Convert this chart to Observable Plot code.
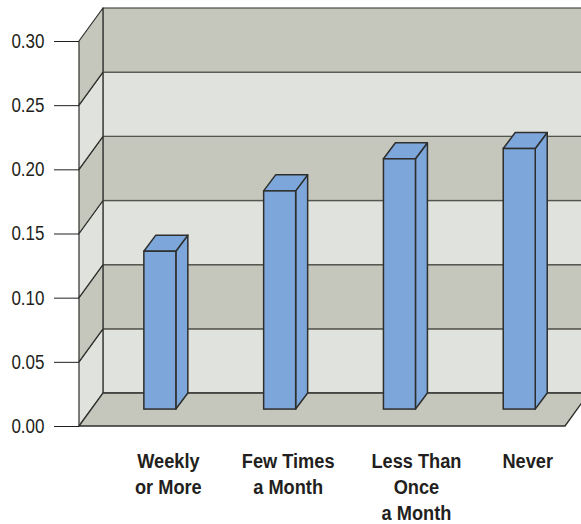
<!DOCTYPE html>
<html>
<head>
<meta charset="utf-8">
<script src="https://cdn.jsdelivr.net/npm/d3@7"></script>
<script src="https://cdn.jsdelivr.net/npm/@observablehq/plot@0.6"></script>
<style>
  html, body { margin: 0; padding: 0; background: #fff; overflow: hidden; }
  svg { display: block; }
</style>
</head>
<body>
<div id="chart"></div>
<script>
// Attendance categories and the share of respondents in each
const categories = ["Weekly\nor More", "Few Times\na Month", "Less Than\nOnce\na Month", "Never"];
const shares = [0.123, 0.170, 0.195, 0.203];
const bandEdges = [0, 0.05, 0.10, 0.15, 0.20, 0.25, 0.30];
const yTicks = [0, 0.05, 0.10, 0.15, 0.20, 0.25, 0.30];

const DARK = "#c5c7bc", LIGHT = "#e0e2dd", BLUE = "#7da7db", INK = "#231f20", EDGE = "#2e2e2c";

// Extent of the floor along the category axis, and the oblique depth offsets in data units
const xMin = -0.675, xMax = 3.382;
const wallDX = 0.2, wallDY = 0.0257;
const barHalf = 0.1336, barDX = 0.1, barDY = 0.0125, barBase = 0.0132;

// Wall bands, bottom to top, alternating light and dark
const bands = d3.pairs(bandEdges).map(([y1, y2], i) => ({y1, y2, fill: i % 2 ? DARK : LIGHT, id: i}));

// Side wall: each band is a parallelogram running from the axis to the back wall
const sideWall = bands.flatMap(b => [
  {id: b.id, fill: b.fill, x: xMin, y1: b.y1, y2: b.y2},
  {id: b.id, fill: b.fill, x: xMin + wallDX, y1: b.y1 + wallDY, y2: b.y2 + wallDY}
]);

const floor = [
  {y: 0, x1: xMin, x2: xMax},
  {y: wallDY, x1: xMin + wallDX, x2: xMax + wallDX}
];

const bars = shares.map((v, i) => ({i, left: i - barHalf, right: i + barHalf, base: barBase, top: barBase + v}));

const barSides = bars.flatMap(b => [
  {i: b.i, x: b.right, y1: b.base, y2: b.top},
  {i: b.i, x: b.right + barDX, y1: b.base + barDY, y2: b.top + barDY}
]);

const barTops = bars.flatMap(b => [
  {i: b.i, y: b.top, x1: b.left, x2: b.right},
  {i: b.i, y: b.top + barDY, x1: b.left + barDX, x2: b.right + barDX}
]);

// Category labels; the three-line label sits further right than the others
const categoryAxis = (ticks, dx) => Plot.axisX({
  ticks,
  tickFormat: i => categories[i],
  tickSize: 0, tickPadding: 23, dx, lineHeight: 1.3,
  fontSize: 20, fontWeight: 700, fill: INK, lineAnchor: "top", y: 0
});

const chart = Plot.plot({
  width: 581,
  height: 524,
  marginTop: 41,
  marginBottom: 98,
  marginLeft: 79,
  marginRight: 16,
  style: {fontFamily: "'Liberation Sans', Arial, sans-serif", background: "#fff", color: INK},
  x: {domain: [xMin, xMax], axis: null},
  y: {domain: [0, 0.30], axis: null},
  marks: [
    // Back wall
    Plot.rect(bands, {
      x1: xMin + wallDX, x2: xMax + wallDX,
      y1: d => d.y1 + wallDY, y2: d => d.y2 + wallDY,
      fill: "fill", stroke: "#55554f", strokeWidth: 1.3
    }),
    // Side wall
    Plot.areaY(sideWall, {x: "x", y1: "y1", y2: "y2", z: "id", fill: "fill", stroke: EDGE, strokeWidth: 1.2}),
    // Floor
    Plot.areaX(floor, {y: "y", x1: "x1", x2: "x2", fill: DARK, stroke: EDGE, strokeWidth: 1.3}),
    // Bars: right face, top face, then front face
    Plot.areaY(barSides, {x: "x", y1: "y1", y2: "y2", z: "i", fill: BLUE, stroke: EDGE, strokeWidth: 1.5}),
    Plot.areaX(barTops, {y: "y", x1: "x1", x2: "x2", z: "i", fill: BLUE, stroke: EDGE, strokeWidth: 1.5}),
    Plot.rect(bars, {x1: "left", x2: "right", y1: "base", y2: "top", fill: BLUE, stroke: EDGE, strokeWidth: 1.5}),
    // Axes
    Plot.axisY({
      ticks: yTicks, tickFormat: d3.format(".2f"), tickSize: 25, tickPadding: 10,
      fontSize: 20, stroke: INK, fill: INK, x: xMin
    }),
    categoryAxis([0, 1, 3], 8),
    categoryAxis([2], 16.5)
  ]
});
document.getElementById("chart").append(chart);

// Condense the type horizontally, since no narrow face is available
function condense(selector, factor) {
  chart.querySelectorAll(selector).forEach(node => {
    const runs = node.querySelectorAll("tspan");
    (runs.length ? runs : [node]).forEach(run => {
      run.setAttribute("textLength", run.getComputedTextLength() * factor);
      run.setAttribute("lengthAdjust", "spacingAndGlyphs");
    });
  });
}
condense('g[aria-label="y-axis tick label"] text', 0.85);
condense('g[aria-label="x-axis tick label"] text', 0.91);
</script>
</body>
</html>
